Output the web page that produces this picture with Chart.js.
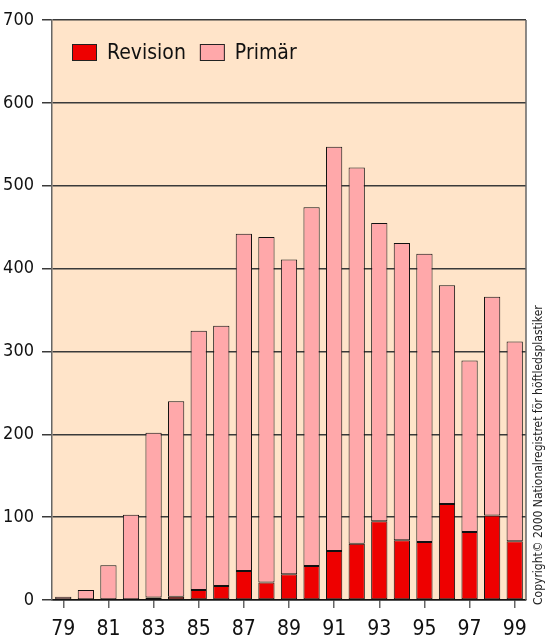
<!DOCTYPE html>
<html><head><meta charset="utf-8">
<script src="https://cdn.jsdelivr.net/npm/chart.js@4/dist/chart.umd.min.js"></script>
<style>html,body{margin:0;padding:0;background:#fff;} canvas{display:block;}</style>
</head><body>
<canvas id="c" width="548" height="637"></canvas>
<script>
const years = ['79','80','81','82','83','84','85','86','87','88','89','90','91','92','93','94','95','96','97','98','99'];
const revision = [0,0,0,0,3,4,12,17,35,21,31,41,59,68,95,72,70,116,82,102,71];
const primar = [4,12,42,103,199,236,313,314,407,417,380,433,488,454,360,359,348,264,207,264,241];
const yMin = 0, yMax = 700, yStep = 100;
const seriesNames = ['Revision', 'Primär'];
const copyrightText = 'Copyright\u00A9 2000 Nationalregistret för höftledsplastiker';

const FONT = "'Liberation Sans Narrow', 'DejaVu Sans Condensed', sans-serif";
const PEACH = '#FFE4C9';

const decorPlugin = {
  id: 'decor',
  beforeDraw(chart) {
    const {ctx, chartArea: a} = chart;
    ctx.save();
    ctx.fillStyle = PEACH;
    ctx.fillRect(a.left, a.top, a.right - a.left, a.bottom - a.top);
    ctx.restore();
  },
  afterDraw(chart) {
    const {ctx, chartArea: a} = chart;
    ctx.save();
    // right frame line
    ctx.strokeStyle = '#666';
    ctx.lineWidth = 1.5;
    ctx.beginPath();
    ctx.moveTo(a.right, a.top);
    ctx.lineTo(a.right, a.bottom);
    ctx.stroke();
    // legend inside the plot area
    ctx.font = '21px ' + FONT;
    ctx.textBaseline = 'middle';
    ctx.textAlign = 'left';
    let x = a.left + 20;
    const boxY = a.top + 24, boxW = 25, boxH = 17;
    chart.data.datasets.forEach((ds) => {
      ctx.fillStyle = ds.backgroundColor;
      ctx.fillRect(x, boxY, boxW, boxH);
      ctx.strokeStyle = '#222';
      ctx.lineWidth = 1;
      ctx.strokeRect(x + 0.5, boxY + 0.5, boxW - 1, boxH - 1);
      ctx.fillStyle = '#111';
      const tx = x + boxW + 10;
      ctx.fillText(ds.label, tx, boxY + boxH / 2 + 1);
      x = tx + ctx.measureText(ds.label).width + 14;
    });
    // vertical copyright note
    ctx.translate(542, 605);
    ctx.rotate(-Math.PI / 2);
    ctx.fillStyle = '#222';
    ctx.font = '12px ' + FONT;
    ctx.textBaseline = 'alphabetic';
    ctx.fillText(copyrightText, 0, 0);
    ctx.restore();
  }
};

new Chart(document.getElementById('c'), {
  type: 'bar',
  data: {
    labels: years,
    datasets: [
      { label: seriesNames[0], data: revision, backgroundColor: '#EE0000', borderColor: '#111', borderWidth: 1, borderSkipped: false },
      { label: seriesNames[1], data: primar, backgroundColor: '#FFA8AA', borderColor: '#111', borderWidth: 1, borderSkipped: false }
    ]
  },
  options: {
    responsive: false,
    animation: false,
    devicePixelRatio: 1,
    layout: { padding: { top: 20, right: 22, left: 0, bottom: 0 } },
    datasets: { bar: { categoryPercentage: 1, barPercentage: 0.72 } },
    plugins: {
      tooltip: { enabled: false },
      legend: { display: false }
    },
    scales: {
      x: {
        stacked: true,
        offset: true,
        grid: {
          display: true, drawOnChartArea: false, drawTicks: true, tickLength: 8, offset: false,
          color: (c) => (c.index % 2 === 0 ? '#666' : 'rgba(0,0,0,0)'), lineWidth: 1.5
        },
        border: { display: true, color: '#111', width: 1.5 },
        ticks: {
          autoSkip: false, maxRotation: 0, minRotation: 0, padding: 9,
          color: '#111', font: { family: FONT, size: 21 },
          callback: (v, i) => (i % 2 === 0 ? years[i] : '')
        },
        afterFit: (s) => { s.height = 37; }
      },
      y: {
        stacked: true,
        min: yMin, max: yMax,
        ticks: { stepSize: yStep, padding: 8, color: '#111', font: { family: FONT, size: 18 } },
        grid: { color: '#3a3a3a', lineWidth: 1.5, tickLength: 10 },
        border: { display: true, color: '#666', width: 1.5 },
        afterFit: (s) => { s.width = 52; }
      }
    }
  },
  plugins: [decorPlugin]
});
</script>
</body></html>
